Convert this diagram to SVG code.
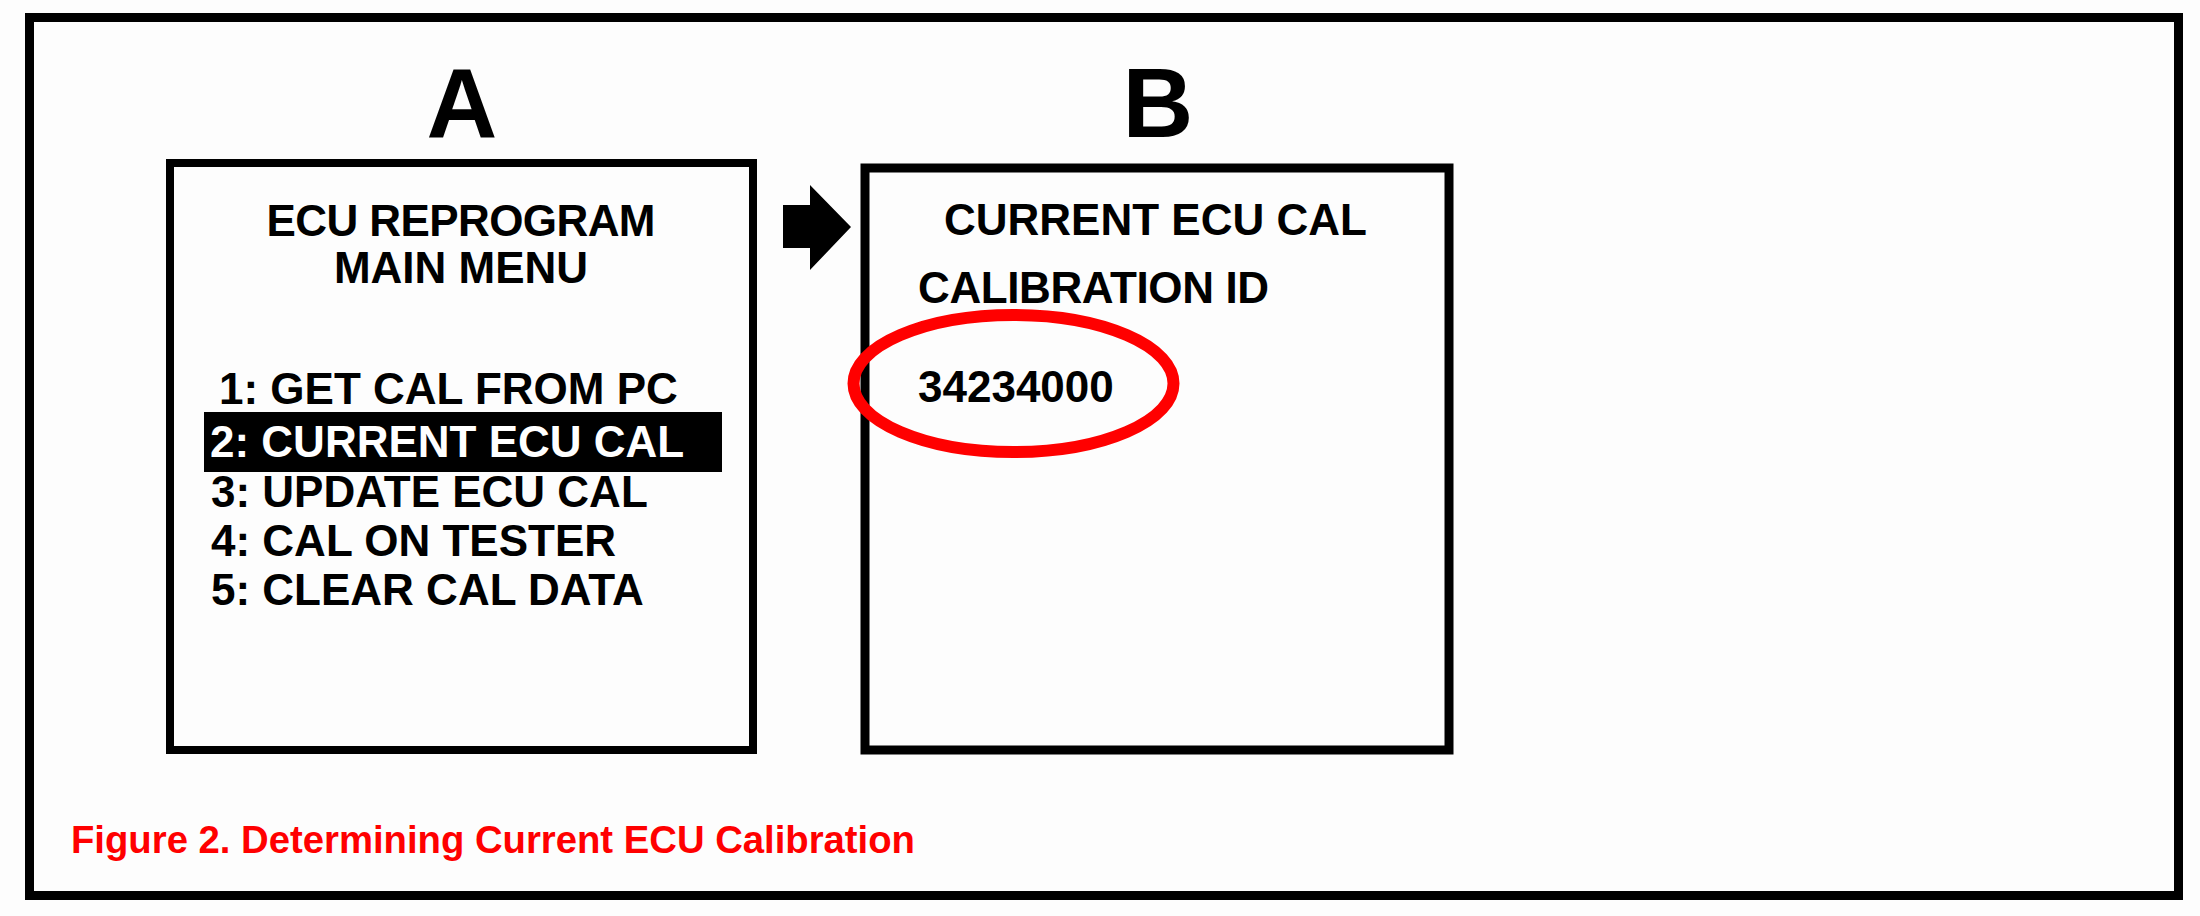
<svg xmlns="http://www.w3.org/2000/svg" width="2200" height="916" viewBox="0 0 2200 916">
<style>
  .frame { fill: none; stroke: #000; }
  .t { font-family: "Liberation Sans", Arial, sans-serif; font-weight: bold; fill: #000; }
  .menu { font-size: 44px; }
  .big { font-size: 98px; text-anchor: middle; }
  .cap { font-size: 39px; fill: #ff0000; }
</style>
<rect x="0" y="0" width="2200" height="916" fill="#fdfdfd"/>
<g id="outer-frame">
  <rect class="frame" x="29.5" y="17.5" width="2149" height="878" stroke-width="9"/>
</g>
<g id="label-A">
  <text class="t big" x="462" y="137">A</text>
</g>
<g id="label-B">
  <text class="t big" x="1158" y="137">B</text>
</g>
<g id="screen-A">
  <rect class="frame" x="170" y="163" width="583" height="587" stroke-width="8"/>
  <text class="t menu" x="461" y="236" text-anchor="middle" textLength="389">ECU REPROGRAM</text>
  <text class="t menu" x="461" y="283" text-anchor="middle">MAIN MENU</text>
  <text class="t menu" x="219" y="404">1: GET CAL FROM PC</text>
  <rect x="204" y="412" width="518" height="60" fill="#000"/>
  <text class="t menu" x="210" y="457" style="fill:#fff">2: CURRENT ECU CAL</text>
  <text class="t menu" x="211" y="507">3: UPDATE ECU CAL</text>
  <text class="t menu" x="211" y="556">4: CAL ON TESTER</text>
  <text class="t menu" x="211" y="605">5: CLEAR CAL DATA</text>
</g>
<g id="screen-B">
  <rect class="frame" x="865" y="168" width="584" height="582" stroke-width="9"/>
  <text class="t menu" x="944" y="235">CURRENT ECU CAL</text>
  <text class="t menu" x="918" y="303" textLength="351">CALIBRATION ID</text>
  <text class="t menu" x="918" y="402">34234000</text>
  <ellipse cx="1013.5" cy="383.5" rx="160" ry="68.5" fill="none" stroke="#ff0000" stroke-width="12"/>
</g>
<g id="connectors">
  <polygon points="783,205 810,205 810,185 851,227 810,270 810,248 783,248" fill="#000"/>
</g>
<g id="caption">
  <text class="t cap" x="71" y="853" textLength="844" lengthAdjust="spacingAndGlyphs">Figure 2. Determining Current ECU Calibration</text>
</g>
</svg>
